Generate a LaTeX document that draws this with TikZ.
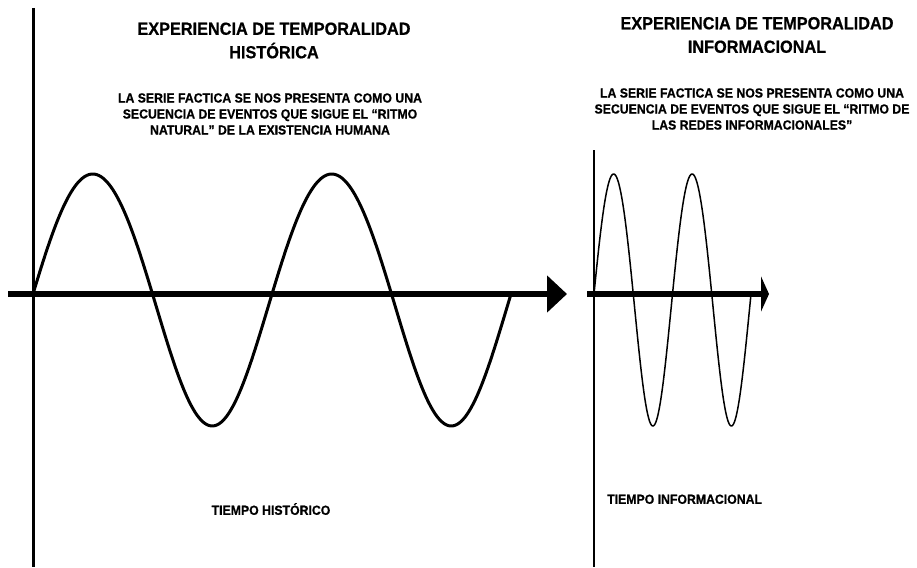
\documentclass[tikz,border=0pt]{standalone}
\usepackage{fontspec}
\setmainfont{Liberation Sans}
\newfontfamily\condsans{Liberation Sans}[FakeStretch=0.93, FakeBold=0.7]
\usetikzlibrary{arrows.meta}
\begin{document}
\begin{tikzpicture}[x=1pt,y=-1pt,
  titletext/.style={font=\condsans\bfseries\fontsize{17.5}{23.5}\selectfont, align=center, inner sep=0pt},
  subtext/.style={font=\condsans\bfseries\fontsize{13.2}{16}\selectfont, align=center, inner sep=0pt},
  axislabel/.style={font=\condsans\bfseries\fontsize{13.2}{15}\selectfont, inner sep=0pt},
  haxis/.style={line width=6pt},
  wave/.style={line join=round, line cap=round}]
\useasboundingbox[fill=white] (0,0) rectangle (917,567);

% ---------- left panel: historical time ----------
\coordinate (Ltop) at (33,8);
\coordinate (Lbot) at (33,567);
\coordinate (Lstart) at (8,294);
\coordinate (Lend) at (567,294);
\draw[line width=3pt] (Ltop) -- (Lbot);
\draw[haxis, -{Triangle[length=20pt,width=36pt]}] (Lstart) -- (Lend);
\draw[wave, line width=3pt] plot[domain=0:720, samples=240, smooth]
  ({33 + \x*0.663889}, {294 - (126-6*sin(\x))*sin(\x)});

% ---------- right panel: informational time ----------
\coordinate (Rtop) at (594,150);
\coordinate (Rbot) at (594,567);
\coordinate (Rstart) at (587,294);
\coordinate (Rend) at (769,294);
\draw[line width=1.3pt] (Rtop) -- (Rbot);
\draw[haxis, -{Triangle[length=8pt,width=35pt]}] (Rstart) -- (Rend);
\draw[wave, line width=1.5pt] plot[domain=0:720, samples=240, smooth]
  ({594 + \x*0.218056}, {294 - (126-6*sin(\x))*sin(\x)});

% ---------- texts ----------
\node[titletext] (t1) at (274,40.5) {EXPERIENCIA DE TEMPORALIDAD\\HISTÓRICA};
\node[subtext] (s1) at (270,114) {LA SERIE FACTICA SE NOS PRESENTA COMO UNA\\SECUENCIA DE EVENTOS QUE SIGUE EL “RITMO\\NATURAL” DE LA EXISTENCIA HUMANA};
\node[titletext] (t2) at (757,35) {EXPERIENCIA DE TEMPORALIDAD\\INFORMACIONAL};
\node[subtext] (s2) at (752,109) {LA SERIE FACTICA SE NOS PRESENTA COMO UNA\\SECUENCIA DE EVENTOS QUE SIGUE EL “RITMO DE\\LAS REDES INFORMACIONALES”};
\node[axislabel, anchor=base] (l1) at (271,514.8) {TIEMPO HISTÓRICO};
\node[axislabel, anchor=base west] (l2) at (607,503.8) {TIEMPO INFORMACIONAL};
\end{tikzpicture}
\end{document}
